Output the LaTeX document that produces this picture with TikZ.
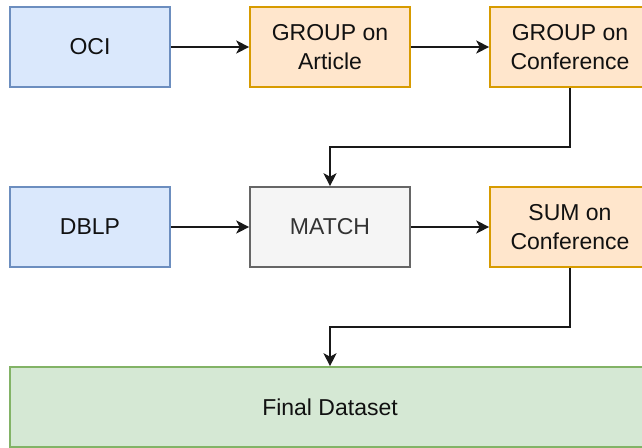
\documentclass[tikz,border=0pt]{standalone}
\usepackage{fontspec}
\setmainfont{Liberation Sans}
\usetikzlibrary{arrows.meta}
\definecolor{bluef}{HTML}{DAE8FC}\definecolor{blued}{HTML}{6C8EBF}
\definecolor{orf}{HTML}{FFE6CC}\definecolor{ord}{HTML}{D79B00}
\definecolor{grf}{HTML}{F5F5F5}\definecolor{grd}{HTML}{666666}
\definecolor{gnf}{HTML}{D5E8D4}\definecolor{gnd}{HTML}{82B366}
\definecolor{txt}{HTML}{111111}
\tikzset{
  x=1pt,y=-1pt,
  box/.style={draw,line width=1.6pt,minimum width=160pt,minimum height=80pt,inner sep=0pt,
    align=center,font=\fontsize{23}{29}\selectfont,text=txt},
  bluebox/.style={box,fill=bluef,draw=blued},
  orbox/.style={box,fill=orf,draw=ord},
  grbox/.style={box,fill=grf,draw=grd,text=black!80},
  gnbox/.style={box,fill=gnf,draw=gnd,minimum width=640pt},
  conn/.style={line width=1.8pt,draw=black!90,-{Stealth[length=13pt,width=13pt,inset=3.5pt]}},
}
\begin{document}
\begin{tikzpicture}
\useasboundingbox (0,0) rectangle (642,447);
\node[bluebox] (oci) at (90,47) {OCI};
\node[orbox] (ga) at (330,47) {GROUP on\\Article};
\node[orbox] (gc) at (570,47) {GROUP on\\Conference};
\node[bluebox] (dblp) at (90,227) {DBLP};
\node[grbox] (match) at (330,227) {MATCH};
\node[orbox] (sum) at (570,227) {SUM on\\Conference};
\node[gnbox] (final) at (330,407) {Final Dataset};
\draw[conn] (oci) -- (ga);
\draw[conn] (ga) -- (gc);
\draw[conn] (dblp) -- (match);
\draw[conn] (match) -- (sum);
\coordinate (b1) at (570,147);
\coordinate (b2) at (330,147);
\coordinate (b3) at (570,327);
\coordinate (b4) at (330,327);
\draw[conn] (gc.south) -- (b1) -- (b2) -- (match.north);
\draw[conn] (sum.south) -- (b3) -- (b4) -- (final.north);
\end{tikzpicture}
\end{document}
